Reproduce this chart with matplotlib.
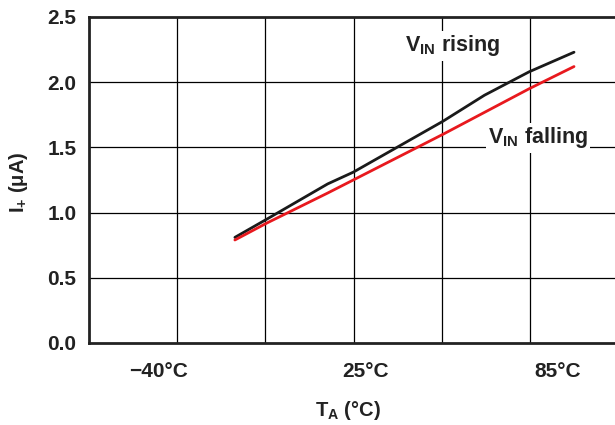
import matplotlib
matplotlib.use("Agg")
import matplotlib.pyplot as plt

plt.rcParams['font.family'] = ['Liberation Sans', 'DejaVu Sans']
plt.rcParams['font.weight'] = 'bold'
plt.rcParams['mathtext.fontset'] = 'custom'
plt.rcParams['mathtext.rm'] = 'Liberation Sans:bold'
plt.rcParams['mathtext.bf'] = 'Liberation Sans:bold'
plt.rcParams['mathtext.it'] = 'Liberation Sans:bold'

# Data (temperature in °C, current in µA)
temp_rising = [-16, -6, 13, 21, 49, 62, 76, 90]
i_rising = [0.81, 0.95, 1.22, 1.31, 1.70, 1.90, 2.08, 2.23]
temp_falling = [-16, -6, 13, 21, 49, 76, 90]
i_falling = [0.79, 0.92, 1.15, 1.25, 1.60, 1.95, 2.12]

x_ticks = [-40, 25, 85]
x_ticklabels = ["\u221240\u00b0C", "25\u00b0C", "85\u00b0C"]
y_ticks = [0.0, 0.5, 1.0, 1.5, 2.0, 2.5]

W, H = 615, 425
fig = plt.figure(figsize=(W / 100, H / 100), dpi=100)
left, right, top, bottom = 89, 618, 17, 343
ax = fig.add_axes([left / W, 1 - bottom / H, (right - left) / W, (bottom - top) / H])

ax.set_xlim(-61.6, 103.75)
ax.set_ylim(0, 2.5)

# grid
for i in range(1, 6):
    ax.plot([i / 6, i / 6], [0, 1], color='black', lw=0.9, zorder=1,
            transform=ax.transAxes)
for y in y_ticks[1:-1]:
    ax.axhline(y, color='black', lw=0.9, zorder=1)

ax.plot(temp_rising, i_rising, color='#1a1a1a', lw=2.0, zorder=3, solid_capstyle='round')
ax.plot(temp_falling, i_falling, color='#e8191e', lw=2.0, zorder=3, solid_capstyle='round')

for s in ['left', 'bottom', 'top']:
    ax.spines[s].set_linewidth(2.0)
    ax.spines[s].set_color('#222222')
ax.spines['right'].set_visible(False)

ax.set_xticks(x_ticks)
ax.set_xticklabels(x_ticklabels)
ax.set_yticks(y_ticks)
ax.set_yticklabels([f"{v:.1f}" for v in y_ticks])
ax.tick_params(axis='both', length=0, labelsize=15)
ax.tick_params(axis='x', pad=14)
ax.tick_params(axis='y', pad=9)
for lbl in ax.get_xticklabels() + ax.get_yticklabels():
    lbl.set_fontweight('bold')
    lbl.set_color('#222222')

bbox = dict(facecolor='white', edgecolor='none', pad=1.5)
ax.text((405 - left) / (right - left), (bottom - 46) / (bottom - top),
        r'V$_{\mathrm{IN}}$ rising', transform=ax.transAxes,
        fontsize=15.5, fontweight='bold', ha='left', va='center', bbox=bbox, zorder=4,
        color='#222222')
ax.text((488 - left) / (right - left), (bottom - 138) / (bottom - top),
        r'V$_{\mathrm{IN}}$ falling', transform=ax.transAxes,
        fontsize=15.5, fontweight='bold', ha='left', va='center', bbox=bbox, zorder=4,
        color='#222222')

fig.text(18 / W, 1 - 182 / H, r'I$_{+}$ ($\mu$A)', rotation=90, fontsize=14.5,
         fontweight='bold', ha='center', va='center', color='#222222')
fig.text(348 / W, 1 - 410 / H, r'T$_{\mathrm{A}}$ ($\degree$C)', fontsize=14.5,
         fontweight='bold', ha='center', va='center', color='#222222')

fig.savefig('out.png', dpi=100)
